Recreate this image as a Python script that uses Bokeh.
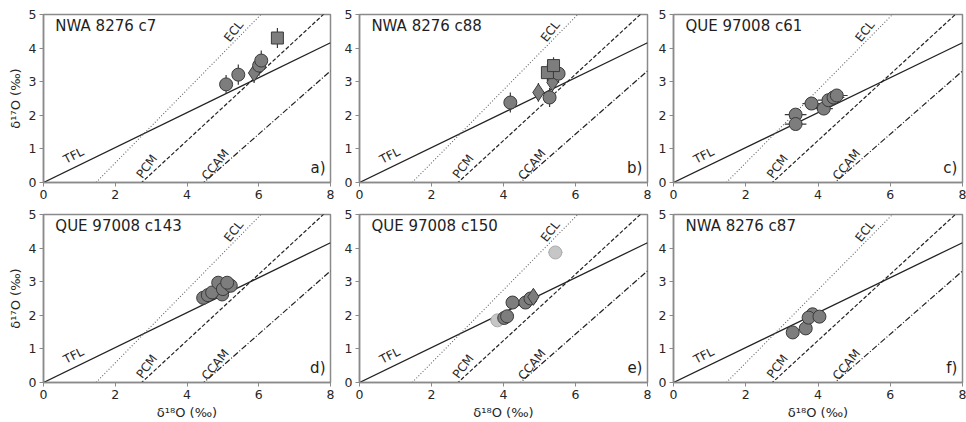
from bokeh.plotting import figure
from bokeh.layouts import column, row
from bokeh.models import Range1d, FixedTicker, ColumnDataSource
from bokeh.core.properties import value
from bokeh.embed import file_html
from bokeh.resources import INLINE

# ---- reference lines (d17O = slope * d18O + intercept) ----
TFL_SLOPE, TFL_INT = 0.52, 0.0
ECL_SLOPE, ECL_INT = 1.087, -1.59
PCM_SLOPE, PCM_INT = 0.987, -2.70
CCAM_SLOPE, CCAM_INT = 0.94, -4.20

# ---- per-chondrule oxygen isotope data ----
TITLES = ["NWA 8276 c7", "NWA 8276 c88", "QUE 97008 c61",
          "QUE 97008 c143", "QUE 97008 c150", "NWA 8276 c87"]
LETTERS = ["a)", "b)", "c)", "d)", "e)", "f)"]

A_D18 = [5.09, 5.43, 5.87, 6.01, 6.07, 6.52]
A_D17 = [2.92, 3.21, 3.26, 3.48, 3.63, 4.30]
A_SHAPE = ["circle", "circle", "diamond", "circle", "circle", "square"]
A_XERR = [0.08, 0.08, 0.08, 0.08, 0.08, 0.08]
A_YERR = [0.28, 0.30, 0.30, 0.30, 0.30, 0.30]
A_TONE = ["dark"] * 6

B_D18 = [4.19, 4.97, 5.28, 5.36, 5.53, 5.22, 5.39]
B_D17 = [2.38, 2.68, 2.53, 2.98, 3.24, 3.27, 3.48]
B_SHAPE = ["circle", "diamond", "circle", "diamond", "circle", "square", "square"]
B_XERR = [0.08] * 7
B_YERR = [0.30, 0.28, 0.28, 0.28, 0.28, 0.25, 0.25]
B_TONE = ["dark"] * 7

C_D18 = [3.38, 3.38, 3.82, 4.16, 4.29, 4.43, 4.52]
C_D17 = [2.02, 1.74, 2.35, 2.20, 2.45, 2.53, 2.59]
C_SHAPE = ["circle"] * 7
C_XERR = [0.30, 0.30, 0.25, 0.25, 0.30, 0.30, 0.30]
C_YERR = [0.10] * 7
C_TONE = ["dark"] * 7

D_D18 = [4.45, 4.58, 4.98, 4.70, 4.87, 5.00, 5.22, 5.12]
D_D17 = [2.52, 2.60, 2.62, 2.68, 2.97, 2.78, 2.88, 2.97]
D_SHAPE = ["circle"] * 8
D_XERR = [0.10] * 8
D_YERR = [0.10] * 8
D_TONE = ["dark"] * 8

E_D18 = [3.83, 4.02, 4.10, 4.25, 4.61, 4.75, 4.83, 5.44]
E_D17 = [1.85, 1.92, 1.97, 2.38, 2.38, 2.50, 2.55, 3.87]
E_SHAPE = ["circle", "circle", "circle", "circle", "circle", "circle", "diamond", "circle"]
E_XERR = [0.20, 0.10, 0.10, 0.15, 0.15, 0.15, 0.15, 0.20]
E_YERR = [0.08] * 8
E_TONE = ["light", "dark", "dark", "dark", "dark", "dark", "dark", "light"]

F_D18 = [3.85, 3.30, 3.66, 3.74, 4.04]
F_D17 = [2.03, 1.49, 1.61, 1.93, 1.96]
F_SHAPE = ["circle"] * 5
F_XERR = [0.10] * 5
F_YERR = [0.10] * 5
F_TONE = ["dark"] * 5

X_TICKS = [0, 2, 4, 6, 8]
Y_TICKS = [0, 1, 2, 3, 4, 5]

FONT = "DejaVu Sans"
SIZES = {"circle": 13, "square": 12, "diamond": 17}
FILLS = {"dark": "#7d7d7d", "light": "#c6c6c6"}
EDGES = {"dark": "#3a3a3a", "light": "#ababab"}

PANELS = [
    (A_D18, A_D17, A_SHAPE, A_XERR, A_YERR, A_TONE),
    (B_D18, B_D17, B_SHAPE, B_XERR, B_YERR, B_TONE),
    (C_D18, C_D17, C_SHAPE, C_XERR, C_YERR, C_TONE),
    (D_D18, D_D17, D_SHAPE, D_XERR, D_YERR, D_TONE),
    (E_D18, E_D17, E_SHAPE, E_XERR, E_YERR, E_TONE),
    (F_D18, F_D17, F_SHAPE, F_XERR, F_YERR, F_TONE),
]

# frame widths and borders for each column / row
COL_FRAME = [287, 288, 289]
COL_LEFT = [43, 22, 22]
COL_RIGHT = [7, 4, 4]
ROW_TOP = [14, 8]
ROW_BOTTOM = [24, 40]
FRAME_H = 168


def ref_line(p, slope, intercept, dash, color, width):
    xs = [0.0, 8.0]
    ys = [slope * x + intercept for x in xs]
    p.line(xs, ys, line_color=color, line_width=width, line_dash=dash)


def make_panel(idx):
    r, c = divmod(idx, 3)
    xs, ys, shapes, xerr, yerr, tones = PANELS[idx]
    p = figure(frame_width=COL_FRAME[c], frame_height=FRAME_H,
               min_border_left=COL_LEFT[c], min_border_right=COL_RIGHT[c],
               min_border_top=ROW_TOP[r], min_border_bottom=ROW_BOTTOM[r],
               x_range=Range1d(0, 8), y_range=Range1d(0, 5),
               output_backend="svg", toolbar_location=None,
               background_fill_color="white", border_fill_color="white")
    p.grid.visible = False
    p.outline_line_color = "#8a8a8a"
    p.outline_line_width = 1.5
    p.xaxis.ticker = FixedTicker(ticks=X_TICKS)
    p.yaxis.ticker = FixedTicker(ticks=Y_TICKS)
    for ax in (p.xaxis[0], p.yaxis[0]):
        ax.axis_line_color = "#8a8a8a"
        ax.axis_line_width = 1.5
        ax.major_tick_line_color = "#8a8a8a"
        ax.major_tick_out = 4
        ax.major_tick_in = 0
        ax.minor_tick_line_color = None
        ax.major_label_standoff = 3
        ax.major_label_text_font = FONT
        ax.major_label_text_font_size = "12.5px"
        ax.major_label_text_color = "#262626"
        ax.axis_label_text_font = FONT
        ax.axis_label_text_font_size = "13px"
        ax.axis_label_text_font_style = "normal"
        ax.axis_label_text_color = "#262626"
        ax.axis_label_standoff = 3
    if c == 0:
        p.yaxis.axis_label = "δ¹⁷O (‰)"
    if r == 1:
        p.xaxis.axis_label = "δ¹⁸O (‰)"

    # fractionation / mixing lines
    ref_line(p, TFL_SLOPE, TFL_INT, "solid", "#222222", 1.3)
    ref_line(p, ECL_SLOPE, ECL_INT, "1 2", "#666666", 1.1)
    ref_line(p, PCM_SLOPE, PCM_INT, "4 2", "#222222", 1.2)
    ref_line(p, CCAM_SLOPE, CCAM_INT, "6 2 1 2", "#222222", 1.2)

    # line labels
    lab_kw = dict(text_font=value(FONT), text_font_size="12px",
                  text_color="#262626", text_align="center",
                  text_baseline="middle")
    p.text(x=[0.84], y=[0.80], text=["TFL"], angle=0.47, **lab_kw)
    p.text(x=[2.88], y=[0.48], text=["PCM"], angle=0.92, **lab_kw)
    p.text(x=[4.79], y=[0.53], text=["CCAM"], angle=0.88, **lab_kw)
    p.text(x=[5.30], y=[4.50], text=["ECL"], angle=0.90, **lab_kw)

    # panel title and letter
    p.text(x=[0.33], y=[4.67], text=[TITLES[idx]], text_font=value(FONT),
           text_font_size="15px", text_color="#1e1e1e",
           text_align="left", text_baseline="middle")
    p.text(x=[7.86], y=[0.42], text=[LETTERS[idx]], text_font=value(FONT),
           text_font_size="15px", text_color="#1e1e1e",
           text_align="right", text_baseline="middle")

    # error bars
    err = ColumnDataSource(dict(
        x=xs, y=ys,
        x0=[x - e for x, e in zip(xs, xerr)], x1=[x + e for x, e in zip(xs, xerr)],
        y0=[y - e for y, e in zip(ys, yerr)], y1=[y + e for y, e in zip(ys, yerr)],
        col=[EDGES[t] for t in tones]))
    p.segment(x0="x0", y0="y", x1="x1", y1="y", line_color="col",
              line_width=1.2, source=err)
    p.segment(x0="x", y0="y0", x1="x", y1="y1", line_color="col",
              line_width=1.2, source=err)

    # data markers
    src = ColumnDataSource(dict(
        x=xs, y=ys, marker=shapes,
        size=[SIZES[s] for s in shapes],
        fill=[FILLS[t] for t in tones],
        edge=[EDGES[t] for t in tones]))
    p.scatter(x="x", y="y", marker="marker", size="size", fill_color="fill",
              line_color="edge", line_width=1.0, source=src)
    return p


figs = [make_panel(i) for i in range(6)]
layout = column(row(*figs[:3]), row(*figs[3:]))

open("out.html", "w").write(file_html(layout, INLINE))
